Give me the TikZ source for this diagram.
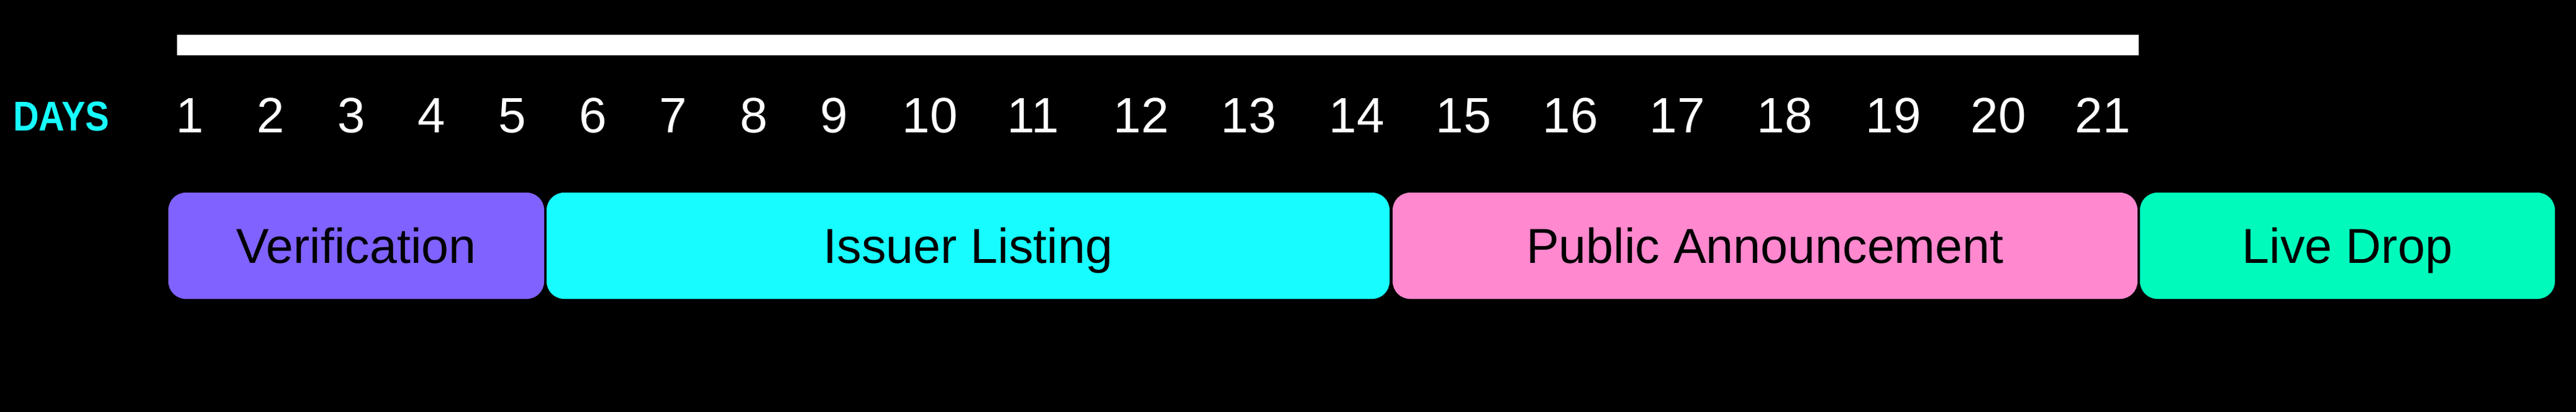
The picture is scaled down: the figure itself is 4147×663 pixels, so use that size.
\documentclass[tikz,border=0pt]{standalone}
\usepackage{fontspec}
\setmainfont{Liberation Sans}
\definecolor{verif}{HTML}{7F62FF}
\definecolor{issuer}{HTML}{17FCFF}
\definecolor{public}{HTML}{FF88CF}
\definecolor{live}{HTML}{00FABC}
\definecolor{dayscol}{HTML}{17FCFF}
\begin{document}
\begin{tikzpicture}[x=1pt,y=-1pt,
  phase/.style={rectangle, rounded corners=28pt, inner sep=0pt, minimum height=171pt,
    text=black, font=\fontsize{79}{90}\selectfont, text height=56.6pt, text depth=0pt},
  daynum/.style={anchor=base, text=white, inner sep=0pt, font=\fontsize{80}{96}\selectfont},
  dayslabel/.style={anchor=base west, text=dayscol, inner sep=0pt, font=\bfseries\fontsize{67}{80}\selectfont}]
  \fill[black] (0,0) rectangle (4147,663);
  \useasboundingbox (0,0) rectangle (4147,663);
  % top bar
  \fill[white] (285,56) rectangle (3443,89);
  % label
  \node[dayslabel] (days) at (21,211) {\scalebox{0.86}[1]{DAYS}};
  % day numbers
  \foreach \n/\cx in {1/306,2/436,3/566,4/695,5/825,6/955,7/1084,8/1214,9/1343,
    10/1497,11/1663,12/1837,13/2010,14/2184,15/2356,16/2528,17/2700,18/2873,19/3048,20/3217,21/3385}
    \node[daynum] (d\n) at (\cx,214) {\n};
  % phases
  \node[phase, fill=verif, minimum width=605pt] (verification) at (573.5,395.5) {Verification};
  \node[phase, fill=issuer, minimum width=1357pt] (issuerlisting) at (1558.5,395.5) {Issuer Listing};
  \node[phase, fill=public, minimum width=1199pt] (publicann) at (2841.5,395.5) {Public Announcement};
  \node[phase, fill=live, minimum width=668pt] (livedrop) at (3779,395.5) {Live Drop};
\end{tikzpicture}
\end{document}
